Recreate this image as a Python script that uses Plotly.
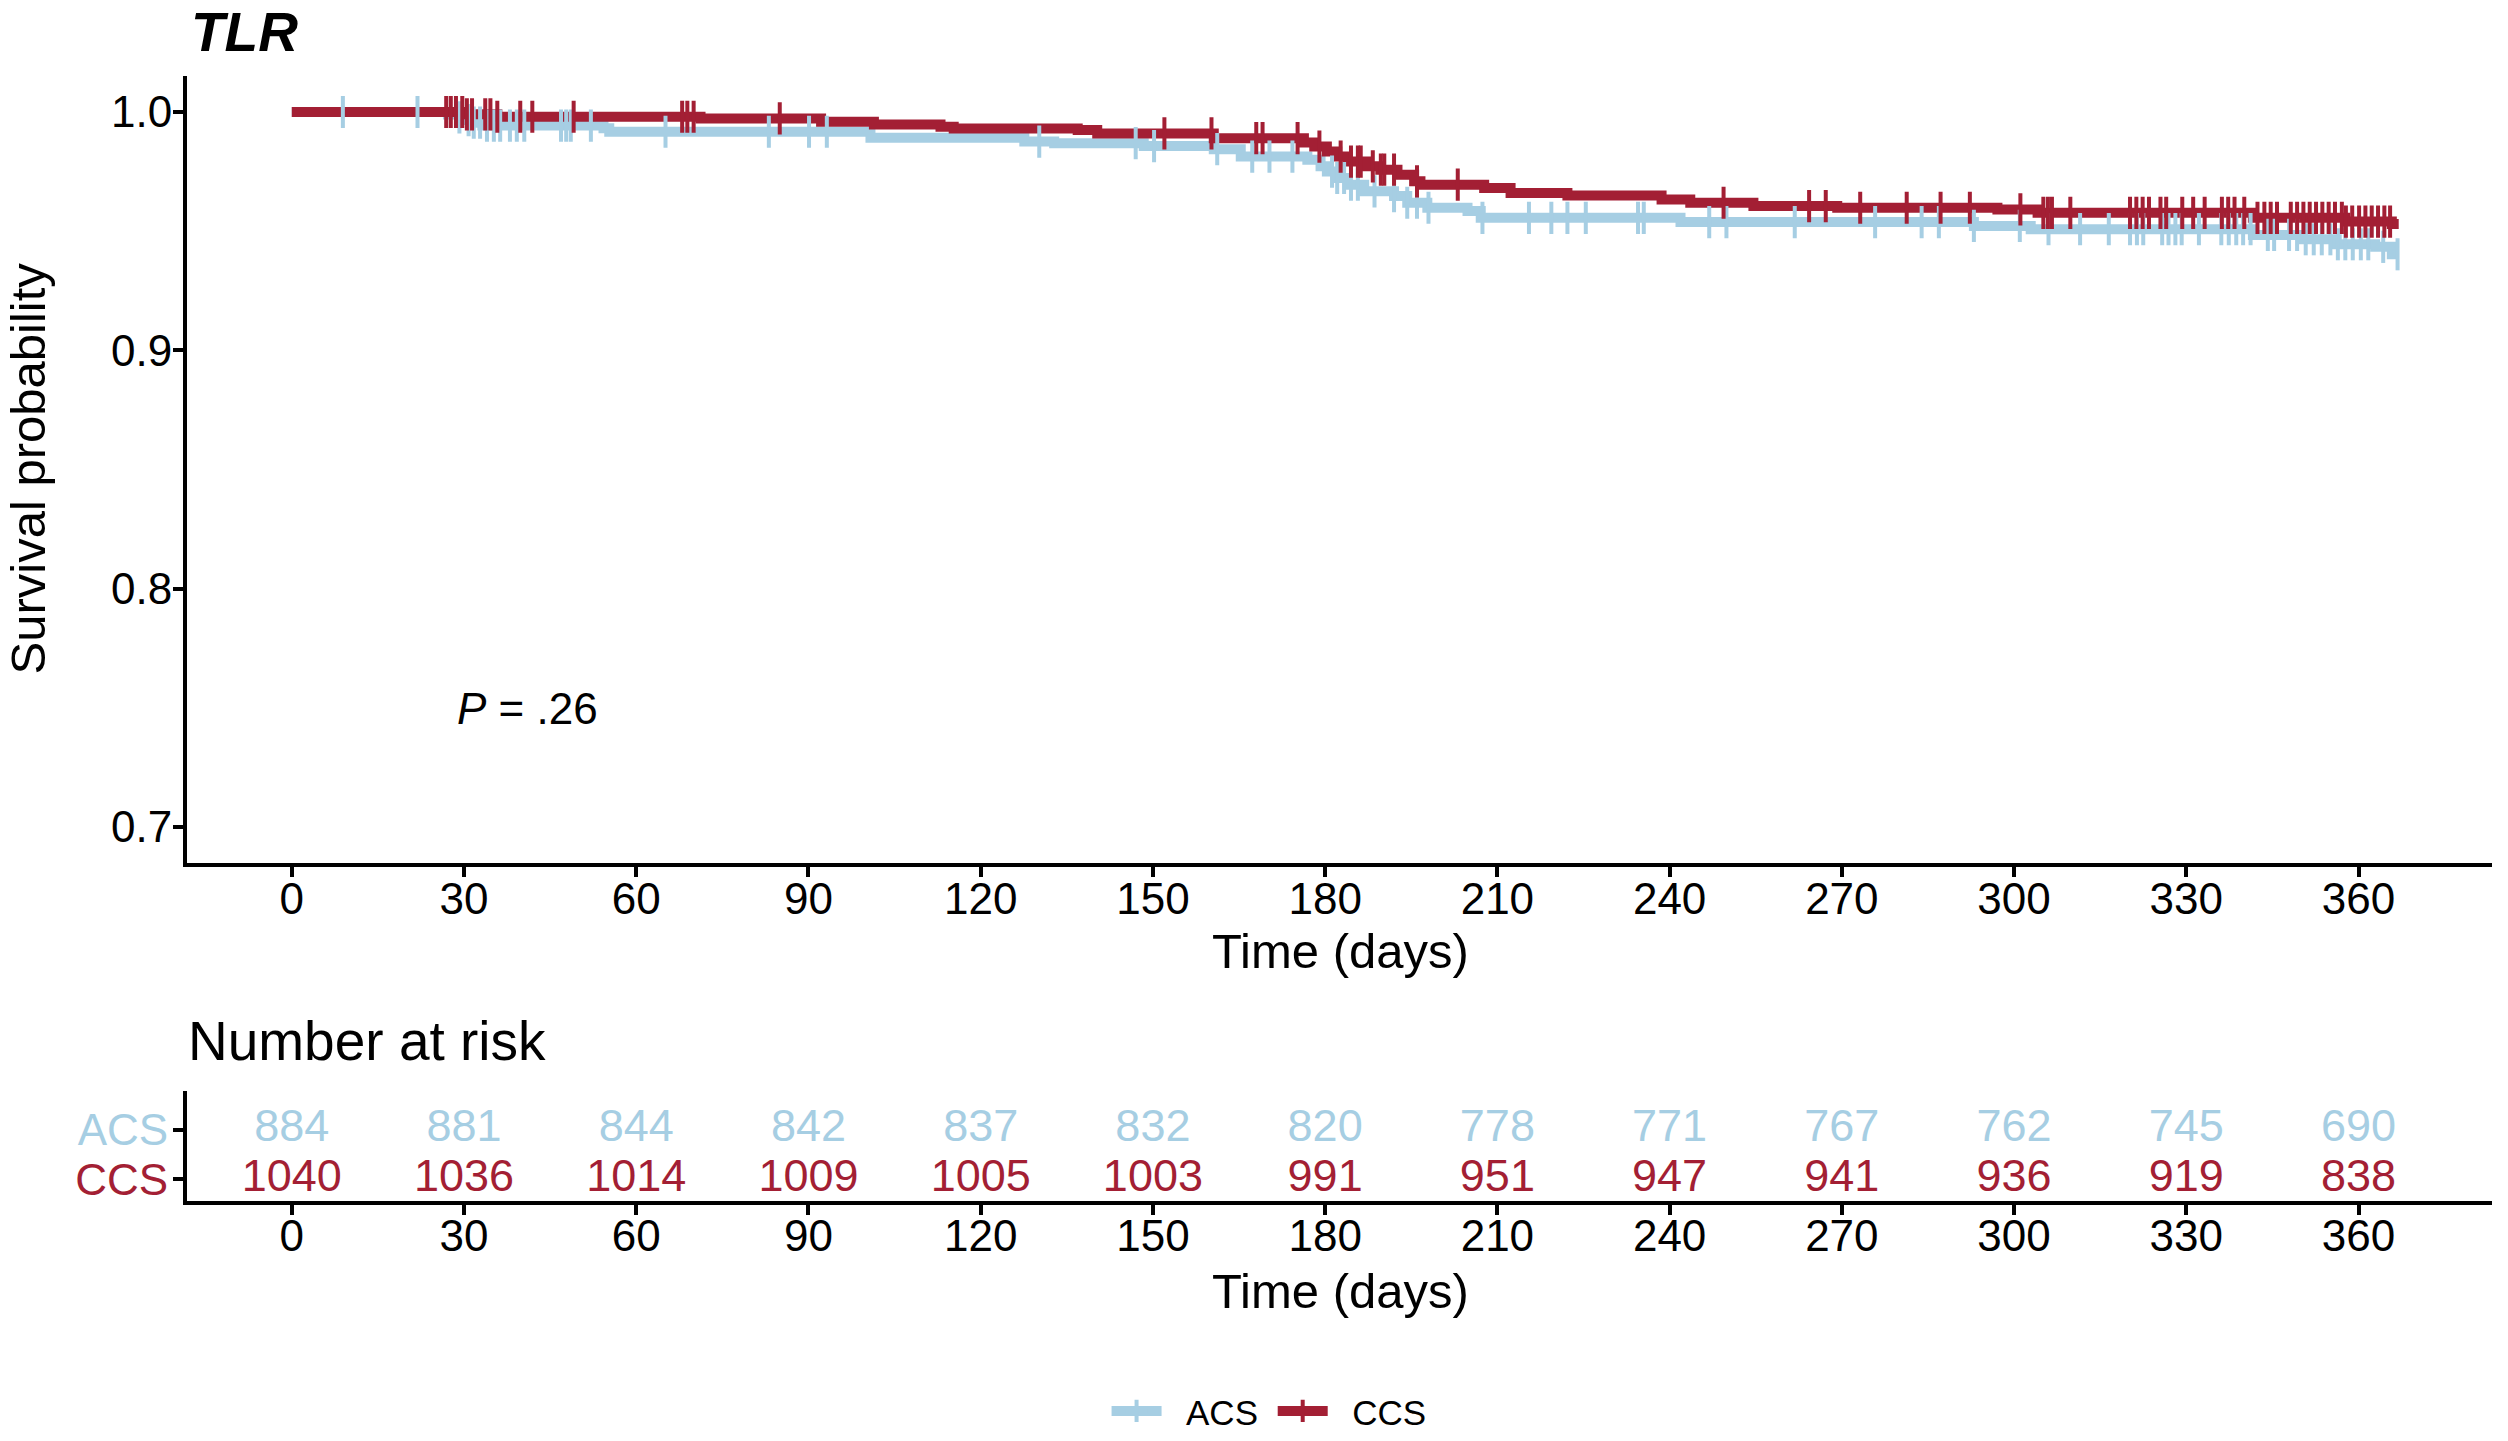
import numpy as np
import plotly.graph_objects as go

# ---------------- data ----------------
acs_time = [0, 27.2, 29.2, 30.2, 31.2, 33.2, 54.3, 55.3, 100.8, 127.6, 132.8, 148.4, 160.6, 165.3,
            176.9, 179.2, 180.3, 182.1, 183.9, 186.8, 192.0, 194.3, 197.8, 204.8, 207.1, 241.9,
            293.0, 302.9, 341.6, 350.2, 356.2, 362.9, 365.8, 367.0]
acs_surv = [1.0, 0.9989, 0.9977, 0.9966, 0.9955, 0.9943, 0.9932, 0.9917, 0.9892, 0.9876, 0.9869,
            0.9857, 0.9844, 0.9813, 0.9800, 0.9772, 0.9750, 0.9723, 0.9695, 0.9667, 0.9647,
            0.9619, 0.9598, 0.9584, 0.9556, 0.9538, 0.9522, 0.9508, 0.9484, 0.9466, 0.9445,
            0.9434, 0.9403, 0.9403]

ccs_time = [0, 30.2, 35.8, 71.2, 92.2, 101.4, 113.0, 115.3, 136.9, 140.3, 160.6, 176.3, 178.1,
            180.3, 182.1, 183.9, 187.2, 189.6, 192.6, 195.5, 196.6, 207.7, 212.3, 222.2, 238.6,
            243.6, 254.6, 269.2, 297.1, 304.1, 341.6, 357.7, 365.8, 367.0]
ccs_surv = [1.0, 0.999, 0.998, 0.9973, 0.9959, 0.9948, 0.9938, 0.9931, 0.9924, 0.991, 0.989,
            0.9872, 0.9855, 0.9834, 0.9813, 0.9792, 0.9772, 0.9758, 0.9737, 0.9709, 0.9695,
            0.9681, 0.966, 0.9649, 0.9633, 0.9619, 0.9605, 0.9598, 0.9591, 0.9577, 0.9556,
            0.954, 0.953, 0.953]

acs_censor = [8.9, 21.9, 29.2, 30.8, 31.7, 32.8, 34.0, 35.2, 36.3, 38.0, 39.2, 40.5, 46.9, 47.8,
              48.6, 52.1, 65.1, 83.1, 90.1, 93.2, 130.2, 147.0, 150.2, 161.2, 167.3, 170.3,
              174.3, 181.2, 182.1, 183.3, 184.5, 185.7, 188.6, 192.0, 194.3, 196.0, 198.0,
              207.4, 215.5, 219.4, 222.2, 225.4, 234.5, 235.5, 246.9, 249.9, 261.8, 275.8,
              283.9, 286.9, 293.0, 301.0, 306.0, 311.5, 316.5, 320.2, 321.4, 322.5, 325.8,
              326.9, 328.1, 329.2, 332.2, 336.1, 337.4, 338.7, 339.9, 341.2, 344.2, 345.3,
              347.9, 349.3, 350.8, 352.2, 353.6, 355.1, 356.4, 357.7, 359.0, 360.4, 361.7,
              364.3, 366.8]
ccs_censor = [26.9, 27.7, 28.6, 29.7, 30.5, 31.4, 33.7, 34.6, 35.8, 39.8, 41.9, 49.1, 68.0, 68.9,
              70.0, 85.0, 152.0, 160.2, 168.0, 169.1, 175.2, 179.0, 182.7, 184.5, 185.7, 186.2,
              188.3, 189.7, 190.3, 192.0, 196.0, 203.1, 249.4, 264.3, 267.2, 273.2, 281.3,
              287.2, 292.3, 301.1, 305.1, 305.9, 306.6, 309.8, 320.2, 321.3, 322.4, 323.5,
              325.5, 326.5, 329.3, 331.2, 333.2, 336.2, 337.3, 338.4, 340.1, 342.4, 343.6,
              344.7, 345.8, 348.2, 349.3, 350.4, 351.5, 352.6, 353.7, 354.8, 355.9, 357.1,
              357.8, 358.9, 360.1, 361.2, 362.3, 363.4, 364.5, 365.5]

risk_times = [0, 30, 60, 90, 120, 150, 180, 210, 240, 270, 300, 330, 360]
acs_risk = [884, 881, 844, 842, 837, 832, 820, 778, 771, 767, 762, 745, 690]
ccs_risk = [1040, 1036, 1014, 1009, 1005, 1003, 991, 951, 947, 941, 936, 919, 838]

groups = ["ACS", "CCS"]
p_text = "<i>P</i> = .26"

# ---------------- style ----------------
W, H = 2508, 1441
BLUE = "#A6CEE3"
RED = "#A31F34"
FONT = "Liberation Sans, Arial, Helvetica, sans-serif"
NB = "\u00a0"


def px_x(v):
    return v / W


def px_y(v):
    return 1 - v / H


def step_value(times, surv, t):
    idx = np.searchsorted(np.asarray(times), np.asarray(t), side="right") - 1
    return np.asarray(surv)[idx]


series = [("ACS", acs_time, acs_surv, acs_censor, BLUE),
          ("CCS", ccs_time, ccs_surv, ccs_censor, RED)]

fig = go.Figure()

for name, t, s, c, col in series:
    fig.add_trace(go.Scatter(x=t, y=s, mode="lines", line=dict(color=col, width=10, shape="hv"),
                             showlegend=False, xaxis="x", yaxis="y", hoverinfo="skip"))
for name, t, s, c, col in series:
    fig.add_trace(go.Scatter(x=c, y=step_value(t, s, c), mode="markers",
                             marker=dict(symbol="line-ns", size=23, color=col,
                                         line=dict(color=col, width=4)),
                             showlegend=False, xaxis="x", yaxis="y", hoverinfo="skip"))

# legend entries
for name, col in [("ACS", BLUE), ("CCS", RED)]:
    fig.add_trace(go.Scatter(x=[None], y=[None], mode="lines+markers",
                             name=NB + NB + name + NB,
                             line=dict(color=col, width=10),
                             marker=dict(symbol="cross-thin", size=16, color=col,
                                         line=dict(color=col, width=4)),
                             xaxis="x", yaxis="y"))

# risk table
fig.add_trace(go.Scatter(x=risk_times, y=[2] * len(risk_times), mode="text",
                         text=[str(v) for v in acs_risk],
                         textfont=dict(color=BLUE, size=45, family=FONT),
                         showlegend=False, xaxis="x2", yaxis="y2", hoverinfo="skip"))
fig.add_trace(go.Scatter(x=risk_times, y=[1] * len(risk_times), mode="text",
                         text=[str(v) for v in ccs_risk],
                         textfont=dict(color=RED, size=45, family=FONT),
                         showlegend=False, xaxis="x2", yaxis="y2", hoverinfo="skip"))

axis_common = dict(showline=True, linewidth=4, linecolor="black", ticks="outside",
                   ticklen=10, tickwidth=4, tickcolor="black", showgrid=False, zeroline=False,
                   tickfont=dict(size=44, color="black", family=FONT))

x_dom = [px_x(187), px_x(2492)]
fig.update_layout(
    width=W, height=H,
    margin=dict(l=0, r=0, t=0, b=0),
    paper_bgcolor="white", plot_bgcolor="white",
    font=dict(family=FONT, color="black"),
    xaxis=dict(domain=x_dom, range=[-18.25, 383.25], tickvals=risk_times, anchor="y",
               ticklabelstandoff=-15, **axis_common),
    yaxis=dict(domain=[px_y(871), px_y(77)], range=[0.685, 1.015],
               tickvals=[0.7, 0.8, 0.9, 1.0], ticktext=["0.7", "0.8", "0.9", "1.0"],
               anchor="x", ticklabelstandoff=-8, **axis_common),
    xaxis2=dict(domain=x_dom, range=[-18.25, 383.25], tickvals=risk_times, anchor="y2",
                ticklabelstandoff=-17, **axis_common),
    yaxis2=dict(domain=[px_y(1213), px_y(1102)], range=[0.56, 2.78], tickvals=[1, 2],
                ticktext=[f"<span style='color:{RED}'>CCS</span>",
                          f"<span style='color:{BLUE}'>ACS</span>"],
                anchor="x2", ticklabelstandoff=-4, **axis_common),
    legend=dict(orientation="h", x=0.508, xanchor="center", y=px_y(1425), yanchor="middle",
                font=dict(size=35, color="black", family=FONT), itemwidth=50,
                bgcolor="rgba(0,0,0,0)"),
    showlegend=True,
)

annotations = [
    dict(text="<b><i>TLR</i></b>", x=px_x(190), y=1, xanchor="left", yanchor="top",
         font=dict(size=55), borderpad=0),
    dict(text="Survival probability", x=px_x(28), y=px_y(473), xanchor="center",
         yanchor="middle", textangle=-90, font=dict(size=49)),
    dict(text="Time (days)", x=px_x(1340), y=px_y(960), xanchor="center", yanchor="middle",
         font=dict(size=49)),
    dict(text="Number at risk", x=px_x(186), y=px_y(1051), xanchor="left", yanchor="middle",
         font=dict(size=55)),
    dict(text="Time (days)", x=px_x(1340), y=px_y(1304), xanchor="center", yanchor="middle",
         font=dict(size=49)),
    dict(text=p_text, x=px_x(455), y=px_y(715), xanchor="left", yanchor="middle",
         font=dict(size=44)),
]
for a in annotations:
    a.update(xref="paper", yref="paper", showarrow=False)
fig.update_layout(annotations=annotations)

fig.write_html("out.html", post_script="document.body.style.margin='0px';",
               config={"displayModeBar": False})
